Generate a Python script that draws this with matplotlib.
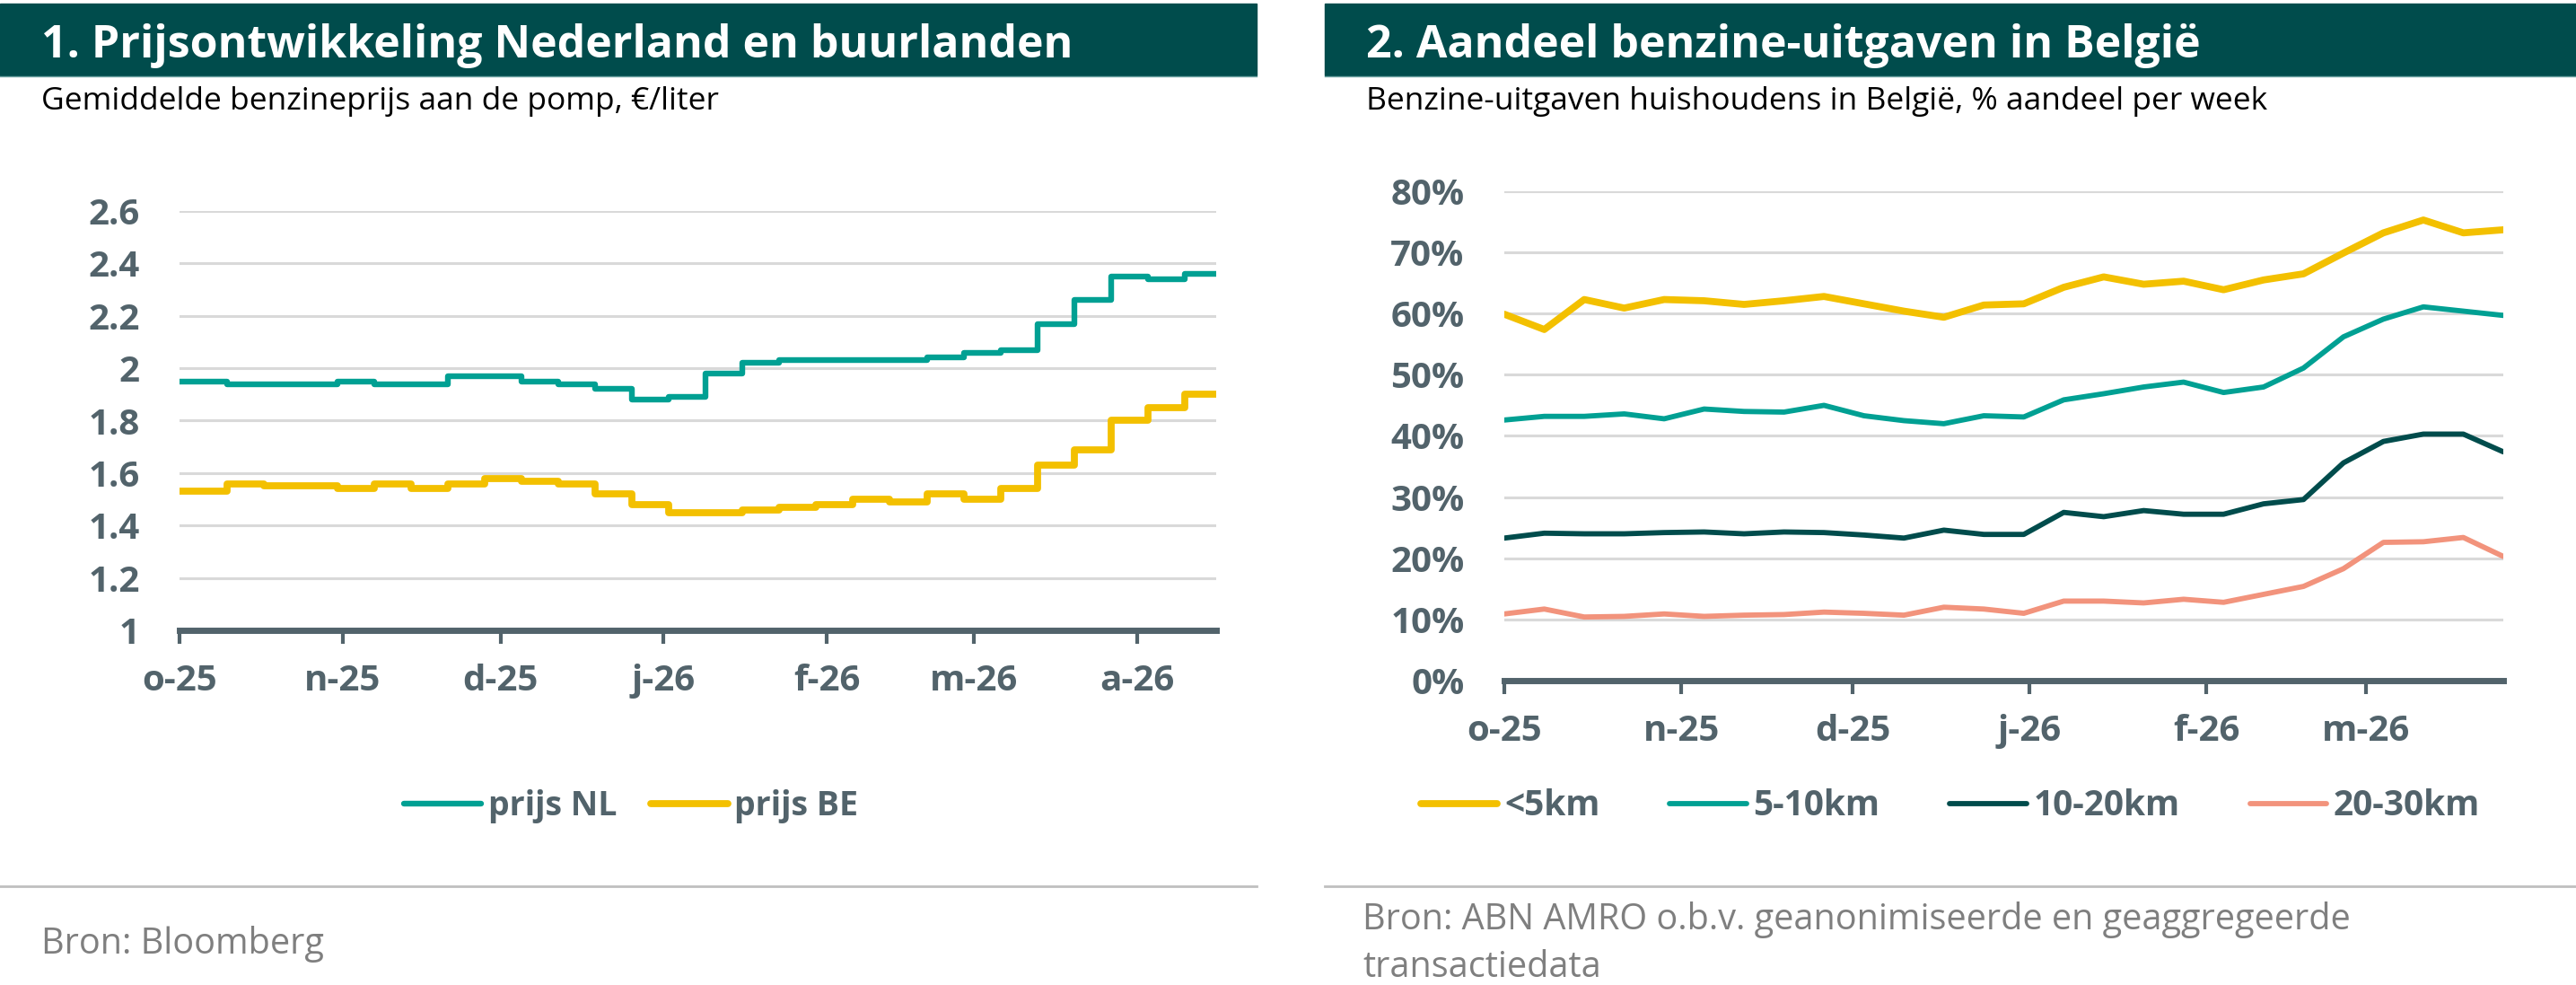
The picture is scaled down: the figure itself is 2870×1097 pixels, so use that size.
"""Benzineprijs NL/BE en aandeel benzine-uitgaven in België (twee panelen)."""

import matplotlib

matplotlib.use("Agg")
import matplotlib.dates as mdates
import matplotlib.pyplot as plt
import pandas as pd
from matplotlib.patches import Rectangle

# ---- data paneel 1: weekprijzen (euro/liter), begin van elke stap ----
price_dates = ["2025-10-01", "2025-10-10", "2025-10-17", "2025-10-24", "2025-10-31",
               "2025-11-07", "2025-11-14", "2025-11-21", "2025-11-28", "2025-12-05",
               "2025-12-12", "2025-12-19", "2025-12-26", "2026-01-02", "2026-01-09",
               "2026-01-16", "2026-01-23", "2026-01-30", "2026-02-06", "2026-02-13",
               "2026-02-20", "2026-02-27", "2026-03-06", "2026-03-13", "2026-03-20",
               "2026-03-27", "2026-04-03", "2026-04-10"]
price_end = "2026-04-16"
prijs_nl = [1.95, 1.94, 1.94, 1.94, 1.95, 1.94, 1.94, 1.97, 1.97, 1.95,
            1.94, 1.92, 1.88, 1.89, 1.98, 2.02, 2.03, 2.03, 2.03, 2.03,
            2.04, 2.06, 2.07, 2.17, 2.26, 2.35, 2.34, 2.36]
prijs_be = [1.53, 1.56, 1.55, 1.55, 1.54, 1.56, 1.54, 1.56, 1.58, 1.57,
            1.56, 1.52, 1.48, 1.45, 1.45, 1.46, 1.47, 1.48, 1.50, 1.49,
            1.52, 1.50, 1.54, 1.63, 1.69, 1.80, 1.85, 1.90]
left_ticks = ["2025-10-01", "2025-11-01", "2025-12-01", "2026-01-01",
              "2026-02-01", "2026-03-01", "2026-04-01"]
left_ticklabels = ["o-25", "n-25", "d-25", "j-26", "f-26", "m-26", "a-26"]
left_yticks = [1, 1.2, 1.4, 1.6, 1.8, 2, 2.2, 2.4, 2.6]

# ---- data paneel 2: aandeel per week (%) per afstand ----
share_start = "2025-10-01"
n_weeks = 26
km_lt5 = [59.9, 57.4, 62.3, 60.9, 62.3, 62.1, 61.5, 62.1, 62.8, 61.6,
          60.4, 59.4, 61.4, 61.6, 64.3, 66.0, 64.8, 65.3, 63.9, 65.5,
          66.5, 69.9, 73.2, 75.3, 73.2, 73.7]
km_5_10 = [42.6, 43.2, 43.2, 43.6, 42.8, 44.4, 44.0, 43.9, 45.0, 43.3,
           42.5, 42.0, 43.3, 43.1, 45.9, 46.9, 48.0, 48.8, 47.1, 48.0,
           51.1, 56.2, 59.1, 61.1, 60.4, 59.7]
km_10_20 = [23.3, 24.1, 24.0, 24.0, 24.2, 24.3, 24.0, 24.3, 24.2, 23.8,
            23.3, 24.6, 23.9, 23.9, 27.5, 26.8, 27.8, 27.2, 27.2, 28.9,
            29.6, 35.6, 39.1, 40.3, 40.3, 37.4]
km_20_30 = [10.9, 11.7, 10.4, 10.5, 10.9, 10.5, 10.7, 10.8, 11.2, 11.0,
            10.7, 12.0, 11.7, 11.0, 13.0, 13.0, 12.7, 13.3, 12.8, 14.1,
            15.4, 18.3, 22.6, 22.7, 23.4, 20.3]
right_ticks = left_ticks[:6]
right_ticklabels = left_ticklabels[:6]
right_yticks = [0, 10, 20, 30, 40, 50, 60, 70, 80]

# kleuren
DARK = "#004c4c"
TEAL = "#00a093"
YELLOW = "#f3c000"
SALMON = "#f2937c"
AXIS = "#52636b"
GRID = "#d9d9d9"
SOURCE = "#7f7f7f"

plt.rcParams["font.family"] = ["Open Sans", "DejaVu Sans"]

W, H = 2870, 1097
fig = plt.figure(figsize=(W / 100, H / 100), dpi=100)


def px(x, y):
    return x / W, 1 - y / H


def style_axes(ax, ylim, yticks, ylabels, xticks, xlabels):
    ax.set_ylim(*ylim)
    ax.set_yticks(yticks)
    ax.set_yticklabels(ylabels)
    ax.set_xticks(mdates.date2num(pd.to_datetime(xticks)))
    ax.set_xticklabels(xlabels)
    for s in ("top", "right", "left"):
        ax.spines[s].set_visible(False)
    ax.spines["bottom"].set_color(AXIS)
    ax.spines["bottom"].set_linewidth(5)
    ax.spines["bottom"].set_zorder(5)
    ax.grid(axis="y", color=GRID, lw=2.2)
    ax.set_axisbelow(True)
    ax.tick_params(axis="y", length=0, pad=32, labelsize=29, labelcolor=AXIS)
    ax.tick_params(axis="x", length=10.5, width=3, color=AXIS, pad=16,
                   labelsize=29, labelcolor=AXIS)
    for lab in ax.get_xticklabels() + ax.get_yticklabels():
        lab.set_fontweight("bold")


# ---- headers ----
for x0, x1, title, sub in [
    (0, 1400, "1. Prijsontwikkeling Nederland en buurlanden",
     "Gemiddelde benzineprijs aan de pomp, €/liter"),
    (1476, 2870, "2. Aandeel benzine-uitgaven in België",
     "Benzine-uitgaven huishoudens in België, % aandeel per week"),
]:
    fig.patches.append(Rectangle(px(x0, 84), (x1 - x0) / W, 80 / H,
                                 transform=fig.transFigure, color=DARK, zorder=0))
    fig.add_artist(plt.Line2D([x0 / W, x1 / W], [1 - 84.5 / H] * 2,
                              transform=fig.transFigure, color="#6fa3a3", lw=1))
    fig.text(*px(x0 + 46, 64), title, color="white", fontsize=36,
             fontweight="bold", va="baseline")
    fig.text(*px(x0 + 46, 122), sub, color="black", fontsize=25.5, va="baseline")
    fig.add_artist(plt.Line2D([x0 / W, x1 / W], [1 - 987 / H] * 2,
                              transform=fig.transFigure, color="#bfbfbf", lw=2))

# ---- paneel 1 ----
ax1 = fig.add_axes([200 / W, 1 - 702 / H, 1155 / W, 467 / H])
xs = pd.to_datetime(price_dates + [price_end])
ax1.plot(xs, prijs_nl + prijs_nl[-1:], drawstyle="steps-post", color=TEAL,
         lw=4.6, solid_capstyle="round", label="prijs NL")
ax1.plot(xs, prijs_be + prijs_be[-1:], drawstyle="steps-post", color=YELLOW,
         lw=5.6, solid_capstyle="round", label="prijs BE")
ax1.set_xlim(xs[0], xs[-1])
style_axes(ax1, (1, 2.6), left_yticks, [f"{v:g}" for v in left_yticks],
           left_ticks, left_ticklabels)
fig.legend(*ax1.get_legend_handles_labels(), loc="center",
           bbox_to_anchor=px(703, 898), ncol=2, frameon=False,
           prop={"size": 27, "weight": "bold"}, labelcolor=AXIS,
           handlelength=2.3, handletextpad=0.2, columnspacing=1.0)

# ---- paneel 2 ----
ax2 = fig.add_axes([1676 / W, 1 - 758 / H, 1113 / W, 545 / H])
weeks = pd.date_range(share_start, periods=n_weeks, freq="7D")
for vals, col, lw, lab in [(km_lt5, YELLOW, 5.6, "<5km"),
                           (km_5_10, TEAL, 4.2, "5-10km"),
                           (km_10_20, DARK, 4.2, "10-20km"),
                           (km_20_30, SALMON, 4.2, "20-30km")]:
    ax2.plot(weeks, vals, color=col, lw=lw, solid_capstyle="round",
             solid_joinstyle="round", label=lab)
ax2.set_xlim(weeks[0], weeks[-1])
style_axes(ax2, (0, 80), right_yticks, [f"{v}%" for v in right_yticks],
           right_ticks, right_ticklabels)
fig.legend(*ax2.get_legend_handles_labels(), loc="center",
           bbox_to_anchor=px(2173, 898), ncol=4, frameon=False,
           prop={"size": 28, "weight": "bold"}, labelcolor=AXIS,
           handlelength=2.2, handletextpad=0.2, columnspacing=2.0)

# ---- bronnen ----
fig.text(*px(46, 1062), "Bron: Bloomberg", color=SOURCE, fontsize=28.5,
         va="baseline")
fig.text(*px(1518, 1035), "Bron: ABN AMRO o.b.v. geanonimiseerde en geaggregeerde",
         color=SOURCE, fontsize=28.5, va="baseline")
fig.text(*px(1518, 1088), "transactiedata", color=SOURCE, fontsize=28.5,
         va="baseline")

fig.savefig("out.png", dpi=100)
